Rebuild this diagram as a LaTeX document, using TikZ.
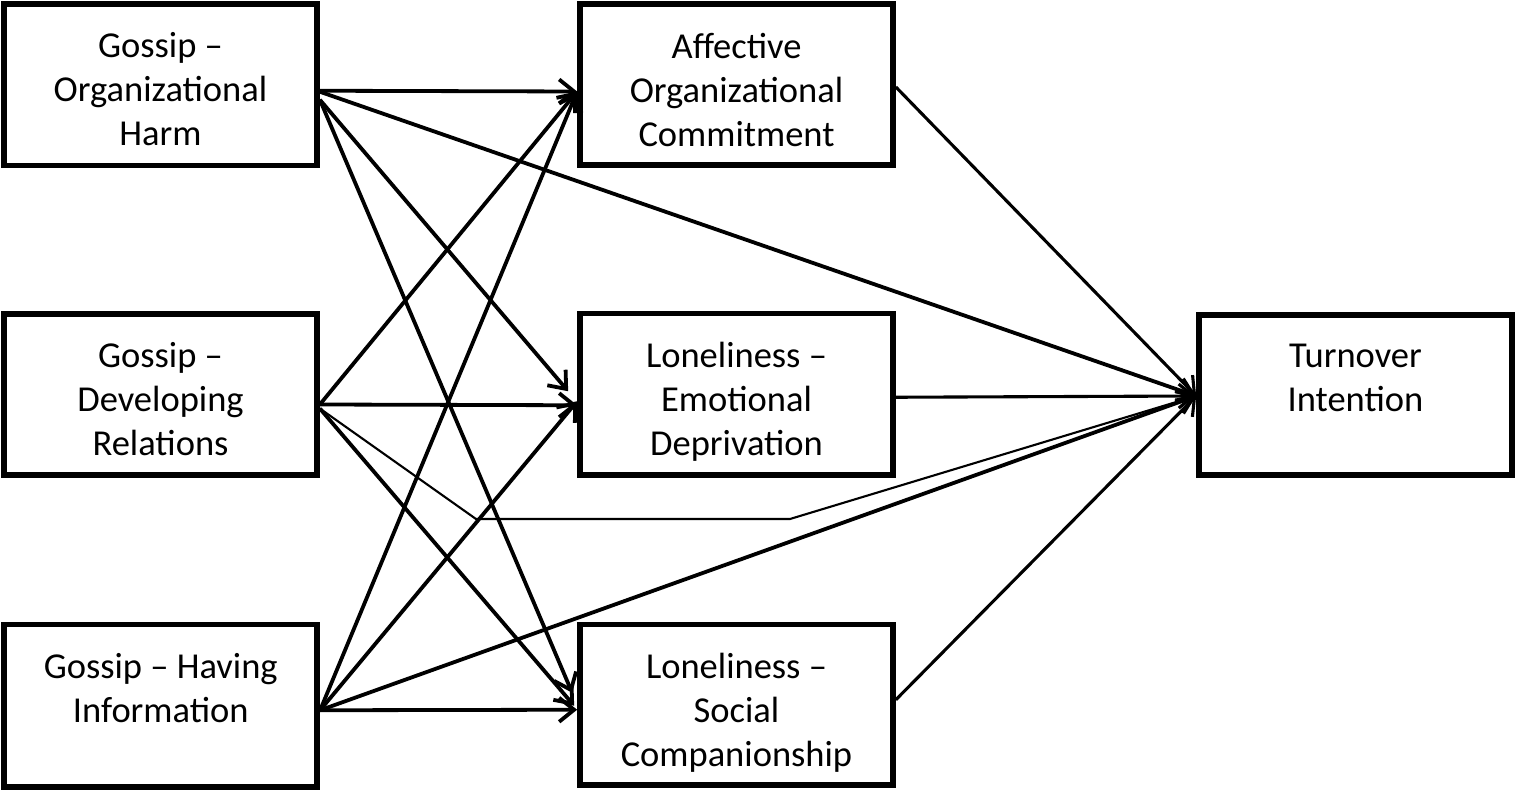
\documentclass[tikz,border=0pt]{standalone}
\usepackage{fontspec}
\setmainfont{Carlito}
\usetikzlibrary{arrows.meta}
\begin{document}
\begin{tikzpicture}[x=1pt,y=-1pt,
  box/.style={draw, line width=5.7pt, minimum width=313pt, inner sep=0pt},
  lbl/.style={anchor=north, inner sep=0pt, align=center,
    font=\fontsize{36.5}{44}\selectfont, execute at begin node=\strut},
  tip/.style={-{Straight Barb[length=15pt,width=24pt]}},
  arr/.style={tip, line width=3.8pt},
  arrb/.style={tip, line width=3.1pt},
  arrc/.style={tip, line width=2.1pt}]
\useasboundingbox (0,0) rectangle (1516,791);
% boxes
\node[box, minimum height=161.5pt] (GH) at (160.5,84.75) {};
\node[box, minimum height=161pt]   (GD) at (160.5,394.5) {};
\node[box, minimum height=162.5pt] (GI) at (160.75,705.75) {};
\node[box, minimum height=161pt]   (AC) at (736.5,84.5) {};
\node[box, minimum height=161.5pt] (LE) at (736.5,394.25) {};
\node[box, minimum height=160.5pt] (LS) at (736.5,704.75) {};
\node[box, minimum height=160pt]   (TI) at (1355.5,395) {};
% labels
\node[lbl] (tGH) at ([yshift=-31.5pt]GH.north) {Gossip –\\Organizational\\Harm};
\node[lbl] (tGD) at ([yshift=-31.5pt]GD.north) {Gossip –\\Developing\\Relations};
\node[lbl] (tGI) at ([yshift=-31.5pt]GI.north) {Gossip – Having\\Information};
\node[lbl] (tAC) at ([yshift=-31.5pt]AC.north) {Affective\\Organizational\\Commitment};
\node[lbl] (tLE) at ([yshift=-31.5pt]LE.north) {Loneliness –\\Emotional\\Deprivation};
\node[lbl] (tLS) at ([yshift=-31.5pt]LS.north) {Loneliness –\\Social\\Companionship};
\node[lbl] (tTI) at ([yshift=-31.5pt]TI.north) {Turnover\\Intention};
% bend points of the thin path
\coordinate (b1) at (476,519);
\coordinate (b2) at (790,519);
% connectors from the gossip boxes
\draw[arr] ([yshift=-6pt]GH.east) -- ([yshift=-7pt]AC.west);
\draw[arr] ([yshift=-7pt]GH.east) -- ([yshift=-1pt]TI.west);
\draw[arr] ([yshift=-15pt]GH.east) -- ([xshift=-9pt,yshift=3pt]LE.west);
\draw[arr] ([yshift=-15pt]GH.east) -- ([xshift=-5pt,yshift=12pt]LS.west);
\draw[arr] ([yshift=-10pt]GD.east) -- ([yshift=-7pt]AC.west);
\draw[arr] ([yshift=-10pt]GD.east) -- ([yshift=-11pt]LE.west);
\draw[arr] ([yshift=-14pt]GD.east) -- ([xshift=-3pt,yshift=-1pt]LS.west);
\draw[arr] ([yshift=-4.5pt]GI.east) -- ([yshift=-7pt]AC.west);
\draw[arr] ([yshift=-4.5pt]GI.east) -- ([yshift=-7pt]LE.west);
\draw[arr] ([yshift=-4.5pt]GI.east) -- ([yshift=-1pt]TI.west);
\draw[arr] ([yshift=-4.5pt]GI.east) -- ([yshift=-5pt]LS.west);
\draw[arrc] ([yshift=-14pt]GD.east) -- (b1) -- (b2) -- ([yshift=-1pt]TI.west);
% connectors from the middle boxes
\draw[arrb] ([yshift=-2.5pt]AC.east) -- ([yshift=-1pt]TI.west);
\draw[arrb] ([yshift=-3pt]LE.east) -- ([yshift=-1pt]TI.west);
\draw[arrb] ([yshift=5pt]LS.east) -- ([yshift=-1pt]TI.west);
\end{tikzpicture}
\end{document}
